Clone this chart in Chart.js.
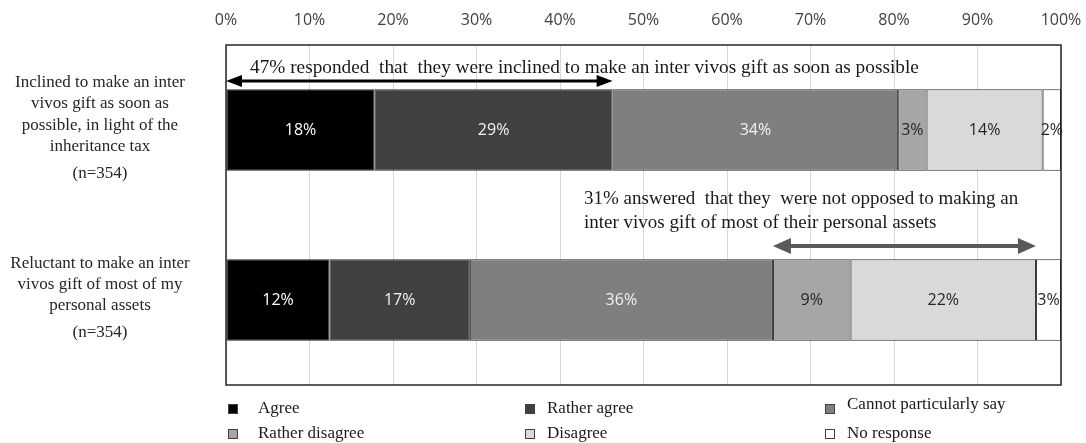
<!DOCTYPE html>
<html>
<head>
<meta charset="utf-8">
<script src="https://cdn.jsdelivr.net/npm/chart.js@4.4.1/dist/chart.umd.min.js"></script>
<style>
  body { margin: 0; background: #fff; }
  canvas { display: block; }
</style>
</head>
<body>
<canvas id="giftChart" width="1086" height="443"></canvas>
<script>
// Survey answers on inter vivos gifts, stacked to 100% per statement
const statements = [
  ['Inclined to make an inter', 'vivos gift as soon as', 'possible, in light of the', 'inheritance tax', '(n=354)'],
  ['Reluctant to make an inter', 'vivos gift of most of my', 'personal assets', '(n=354)']
];
const responses = ['Agree', 'Rather agree', 'Cannot particularly say', 'Rather disagree', 'Disagree', 'No response'];
const agree = [17.8, 12.4];
const ratherAgree = [28.5, 16.8];
const cannotSay = [34.2, 36.3];
const ratherDisagree = [3.4, 9.3];
const disagree = [13.9, 22.2];
const noResponse = [2.2, 3.0];
const xTicks = [0, 10, 20, 30, 40, 50, 60, 70, 80, 90, 100];

const fills = ['#000000', '#404040', '#7f7f7f', '#a6a6a6', '#d9d9d9', '#ffffff'];
const labelInk = ['#ffffff', '#f2f2f2', '#f2f2f2', '#262626', '#262626', '#262626'];
const series = [agree, ratherAgree, cannotSay, ratherDisagree, disagree, noResponse];

const serif = '"Liberation Serif", "Times New Roman", serif';
const sans = '"Open Sans", "Noto Sans", sans-serif';

const sum = (arr) => arr.reduce((a, b) => a + b, 0);

// notes with the double arrows, spans come from the data
const notes = [
  { lines: ['47% responded  that  they were inclined to make an inter vivos gift as soon as possible'], x: 250, y: 68, size: 19.3,
    from: 0, to: agree[0] + ratherAgree[0], arrowY: 81, color: '#000000', width: 3, head: 16, half: 6 },
  { lines: ['31% answered  that they  were not opposed to making an', 'inter vivos gift of most of their personal assets'], x: 584, y: 199, size: 19,
    from: sum(series.slice(0, 3).map((s) => s[1])), to: sum(series.slice(0, 5).map((s) => s[1])), arrowY: 246, color: '#595959', width: 4, head: 18, half: 8 }
];

const legendCols = [228, 525, 825];
const legendRows = [409, 434];

const drawArrow = (ctx, x1, x2, y, n) => {
  ctx.save();
  ctx.strokeStyle = n.color;
  ctx.fillStyle = n.color;
  ctx.lineWidth = n.width;
  ctx.beginPath();
  ctx.moveTo(x1 + n.head - 2, y);
  ctx.lineTo(x2 - n.head + 2, y);
  ctx.stroke();
  ctx.beginPath();
  ctx.moveTo(x1, y);
  ctx.lineTo(x1 + n.head, y - n.half);
  ctx.lineTo(x1 + n.head, y + n.half);
  ctx.closePath();
  ctx.fill();
  ctx.beginPath();
  ctx.moveTo(x2, y);
  ctx.lineTo(x2 - n.head, y - n.half);
  ctx.lineTo(x2 - n.head, y + n.half);
  ctx.closePath();
  ctx.fill();
  ctx.restore();
};

const decorPlugin = {
  id: 'decor',
  afterDatasetsDraw(chart) {
    const { ctx, chartArea: area } = chart;
    const xScale = chart.scales.x;
    const yScale = chart.scales.y;

    // values inside the segments
    ctx.save();
    ctx.font = `16px ${sans}`;
    ctx.textAlign = 'center';
    ctx.textBaseline = 'middle';
    chart.data.datasets.forEach((ds, di) => {
      chart.getDatasetMeta(di).data.forEach((el, i) => {
        ctx.fillStyle = labelInk[di];
        ctx.fillText(`${Math.round(ds.data[i])}%`, (el.x + el.base) / 2, el.y);
      });
    });
    ctx.restore();

    // plot frame
    ctx.save();
    ctx.strokeStyle = '#262626';
    ctx.lineWidth = 1.5;
    ctx.strokeRect(area.left, area.top, area.right - area.left, area.bottom - area.top);
    ctx.restore();

    // statement labels on the left
    ctx.save();
    ctx.font = `17px ${serif}`;
    ctx.fillStyle = '#262626';
    ctx.textAlign = 'center';
    ctx.textBaseline = 'middle';
    statements.forEach((lines, i) => {
      const lh = 21.4;
      const gap = 27;
      const total = (lines.length - 2) * lh + gap;
      let y = yScale.getPixelForValue(i) - total / 2 - 2;
      lines.forEach((line, li) => {
        ctx.fillText(line, 100, y);
        y += li === lines.length - 2 ? gap : lh;
      });
    });
    ctx.restore();

    // annotations
    notes.forEach((n) => {
      ctx.save();
      ctx.font = `${n.size}px ${serif}`;
      ctx.fillStyle = '#1a1a1a';
      ctx.textAlign = 'left';
      ctx.textBaseline = 'middle';
      n.lines.forEach((line, li) => ctx.fillText(line, n.x, n.y + li * 24));
      ctx.restore();
      drawArrow(ctx, xScale.getPixelForValue(n.from), xScale.getPixelForValue(n.to), n.arrowY, n);
    });

    // legend, three columns by two rows
    ctx.save();
    ctx.font = `17px ${serif}`;
    ctx.textBaseline = 'middle';
    ctx.textAlign = 'left';
    chart.data.datasets.forEach((ds, di) => {
      const col = di % 3;
      const row = Math.floor(di / 3);
      const bx = legendCols[col];
      const by = legendRows[row];
      ctx.fillStyle = ds.backgroundColor;
      ctx.fillRect(bx, by - 5, 10, 10);
      ctx.strokeStyle = '#404040';
      ctx.lineWidth = 1;
      ctx.strokeRect(bx + 0.5, by - 4.5, 9, 9);
      ctx.fillStyle = '#1a1a1a';
      ctx.fillText(ds.label, bx + (col === 0 ? 30 : 22), di === 2 ? by - 4 : by);
    });
    ctx.restore();
  }
};

new Chart(document.getElementById('giftChart'), {
  type: 'bar',
  data: {
    labels: statements,
    datasets: responses.map((label, di) => ({
      label,
      data: series[di],
      backgroundColor: fills[di],
      borderColor: '#262626',
      borderWidth: 1,
      borderSkipped: false,
      categoryPercentage: 1,
      barPercentage: 0.48
    }))
  },
  options: {
    indexAxis: 'y',
    responsive: false,
    animation: false,
    layout: { padding: { left: 0, right: 25, top: 0, bottom: 58 } },
    scales: {
      x: {
        position: 'top',
        stacked: true,
        min: 0,
        max: 100,
        afterBuildTicks: (scale) => { scale.ticks = xTicks.map((v) => ({ value: v })); },
        afterFit: (scale) => {
          scale.height = 45;
          scale.paddingLeft = 0;
          scale.paddingRight = 0;
        },
        ticks: { color: '#404040', font: { family: sans, size: 16 }, padding: 15, callback: (v) => `${v}%` },
        grid: { color: '#d9d9d9', drawTicks: false },
        border: { display: false }
      },
      y: {
        stacked: true,
        afterFit: (scale) => { scale.width = 226; },
        ticks: { display: false },
        grid: { display: false },
        border: { display: false }
      }
    },
    plugins: { legend: { display: false }, tooltip: { enabled: false } }
  },
  plugins: [decorPlugin]
});
</script>
</body>
</html>
